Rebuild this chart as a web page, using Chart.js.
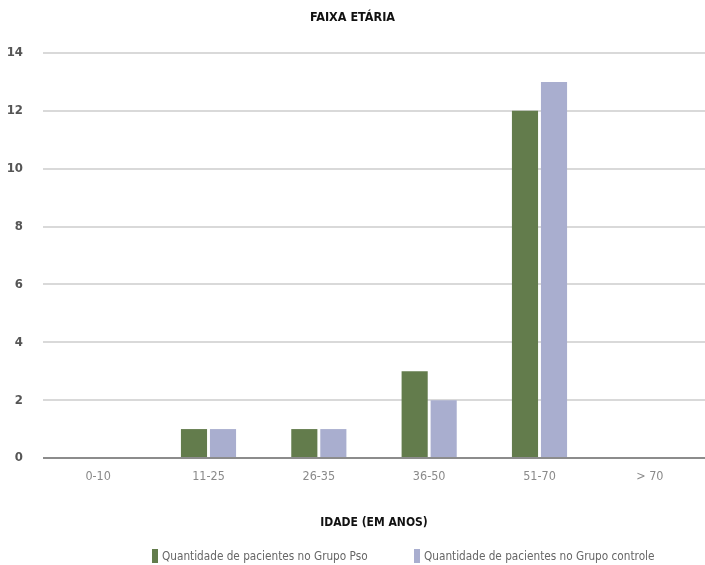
<!DOCTYPE html>
<html>
<head>
<meta charset="utf-8">
<script src="https://cdn.jsdelivr.net/npm/chart.js@4/dist/chart.umd.min.js"></script>
<style>
  html, body { margin: 0; padding: 0; background: #ffffff; }
  #wrap { width: 705px; height: 565px; }
</style>
</head>
<body>
<div id="wrap"><canvas id="c" width="705" height="565"></canvas></div>
<script>
// Age groups and patient counts per group
const faixas = ['0-10', '11-25', '26-35', '36-50', '51-70', '> 70'];
const grupoPso = [0, 1, 1, 3, 12, 0];
const grupoControle = [0, 1, 1, 2, 13, 0];
const serieNomes = ['Quantidade de pacientes no Grupo Pso', 'Quantidade de pacientes no Grupo controle'];
const yTicks = [0, 2, 4, 6, 8, 10, 12, 14];

const NARROW = '"Liberation Sans Narrow", "DejaVu Sans Condensed", sans-serif';

// Legend drawn below the axis title
const bottomLegend = {
  id: 'bottomLegend',
  afterDraw(chart) {
    const ctx = chart.ctx;
    const spots = [152, 414];
    ctx.save();
    ctx.font = '11.7px ' + NARROW;
    ctx.textBaseline = 'middle';
    ctx.textAlign = 'left';
    chart.data.datasets.forEach((ds, i) => {
      const x = spots[i];
      ctx.fillStyle = ds.backgroundColor;
      ctx.fillRect(x, 549, 6, 14);
      ctx.fillStyle = '#666666';
      ctx.fillText(ds.label, x + 10, 557);
    });
    ctx.restore();
  }
};

new Chart(document.getElementById('c'), {
  type: 'bar',
  data: {
    labels: faixas,
    datasets: [
      { label: serieNomes[0], data: grupoPso, backgroundColor: '#637c4c' },
      { label: serieNomes[1], data: grupoControle, backgroundColor: '#a9aecf' }
    ]
  },
  options: {
    responsive: false,
    animation: false,
    layout: { padding: { left: 0, right: 0, top: 0, bottom: 0 } },
    datasets: { bar: { categoryPercentage: 0.526, barPercentage: 0.9, borderWidth: 0 } },
    plugins: {
      legend: { display: false },
      tooltip: { enabled: false },
      title: {
        display: true,
        text: 'FAIXA ETÁRIA',
        color: '#111111',
        font: { family: NARROW, size: 12.5, weight: 'bold', lineHeight: 1.2 },
        padding: { top: 10, bottom: 28 }
      }
    },
    scales: {
      x: {
        grid: { display: false, drawTicks: false },
        border: { display: false },
        ticks: { color: '#8a8a8a', font: { family: NARROW, size: 12.5 }, padding: 11 },
        title: {
          display: true,
          text: 'IDADE (EM ANOS)',
          color: '#111111',
          font: { family: NARROW, size: 12, weight: 'bold', lineHeight: 1.2 },
          padding: { top: 0, bottom: 34.5 }
        },
        afterFit(s) { s.height = 107; }
      },
      y: {
        min: 0,
        max: 14,
        afterBuildTicks(s) { s.ticks = yTicks.map(v => ({ value: v })); },
        grid: {
          drawTicks: false,
          lineWidth: 2,
          color: c => (c.tick && c.tick.value === 0) ? '#8c8c8c' : '#d9d9d9'
        },
        border: { display: false },
        ticks: { color: '#555555', font: { family: NARROW, size: 13, weight: 'bold' }, padding: 20 },
        afterFit(s) { s.width = 43; }
      }
    }
  },
  plugins: [bottomLegend]
});
</script>
</body>
</html>
